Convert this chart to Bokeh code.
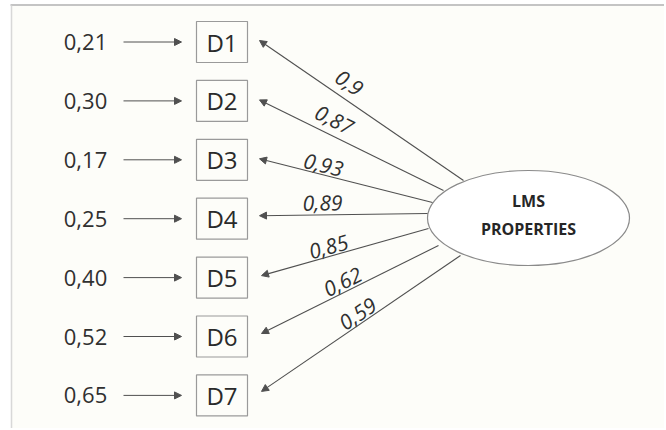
import math
from bokeh.plotting import figure
from bokeh.models import Range1d, Arrow, NormalHead, ColumnDataSource
from bokeh.core.properties import value
from bokeh.embed import file_html
from bokeh.resources import INLINE

# ---- data ----
indicators = ["D1", "D2", "D3", "D4", "D5", "D6", "D7"]
errors = ["0,21", "0,30", "0,17", "0,25", "0,40", "0,52", "0,65"]
loadings = ["0,9", "0,87", "0,93", "0,89", "0,85", "0,62", "0,59"]
latent_lines = ["LMS", "PROPERTIES"]

# ---- layout (page pixel coordinates, y downward) ----
H = 430
W_FIG, H_FIG = 664, 428
def Y(py):
    return H - py

n = len(indicators)
box_cy = [41.5 + 58.9 * i for i in range(n)]
box_x0, box_x1 = 196, 247
box_h = 41
err_x = 85
err_arrow_x0, err_arrow_x1 = 123, 181
tip_x = [259, 259, 259, 259, 261, 261, 261]
tip_dy = [-1.5, -1, -1, -3, -2, -3, -4]
start_pts = [(463, 180), (443, 190), (432, 202), (427, 213), (428, 228), (438, 245), (460, 255)]
load_pos = [(349, 82), (334, 119), (323, 164), (322, 202), (328, 246), (342, 281), (357, 313)]
ell_cx, ell_cy, ell_w, ell_h = 528, 217.5, 202, 95

FONT = "Open Sans"
TXT = "#303030"
LINE = "#505050"

p = figure(width=W_FIG, height=H_FIG, output_backend="svg", toolbar_location=None,
           x_range=Range1d(0, W_FIG), y_range=Range1d(H - H_FIG, H), min_border=0)
p.axis.visible = False
p.grid.visible = False
p.outline_line_color = None
p.background_fill_color = "white"
p.border_fill_color = "white"

# panel background and borders
p.quad(left=[11], right=[W_FIG], bottom=[H - H_FIG], top=[Y(5)], fill_color="#fdfdf9", line_color=None)
p.segment(x0=[10], y0=[Y(4.5)], x1=[W_FIG], y1=[Y(4.5)], line_color="#c4c4c4", line_width=2)
p.segment(x0=[11], y0=[Y(5)], x1=[11], y1=[H - H_FIG], line_color="#d8d8d8", line_width=1.5)

# error arrows
err_src = ColumnDataSource(dict(
    x0=[err_arrow_x0] * n, x1=[err_arrow_x1] * n,
    y0=[Y(c) for c in box_cy], y1=[Y(c) for c in box_cy]))
p.add_layout(Arrow(end=NormalHead(size=7, fill_color=LINE, line_color=LINE),
                   x_start="x0", y_start="y0", x_end="x1", y_end="y1",
                   source=err_src, line_color=LINE, line_width=1))
p.text(x=[err_x] * n, y=[Y(c) for c in box_cy], text=errors,
       text_font=value(FONT), text_font_size="22px", text_color=TXT,
       text_align="center", text_baseline="middle")

# indicator boxes
p.quad(left=[box_x0] * n, right=[box_x1] * n,
       bottom=[Y(c + box_h / 2) for c in box_cy], top=[Y(c - box_h / 2) for c in box_cy],
       fill_color="#fdfdf9", line_color="#9a9a9a", line_width=1.2)
p.text(x=[(box_x0 + box_x1) / 2] * n, y=[Y(c) for c in box_cy], text=indicators,
       text_font=value(FONT), text_font_size="24px", text_color="#2a2a2a",
       text_align="center", text_baseline="middle")

# loading arrows
ld_src = ColumnDataSource(dict(
    x0=[s[0] for s in start_pts], y0=[Y(s[1]) for s in start_pts],
    x1=tip_x, y1=[Y(c + d) for c, d in zip(box_cy, tip_dy)]))
p.add_layout(Arrow(end=NormalHead(size=7, fill_color=LINE, line_color=LINE),
                   x_start="x0", y_start="y0", x_end="x1", y_end="y1",
                   source=ld_src, line_color=LINE, line_width=1.1))

angles = []
for (sx, sy), tx, c, d in zip(start_pts, tip_x, box_cy, tip_dy):
    ty = c + d
    angles.append(math.atan2(-(sy - ty), sx - tx))
p.text(x=[q[0] for q in load_pos], y=[Y(q[1]) for q in load_pos], text=loadings,
       angle=angles, text_font=value(FONT), text_font_size="21px",
       text_font_style="italic", text_color=TXT,
       text_align="center", text_baseline="middle")

# latent ellipse
p.ellipse(x=[ell_cx], y=[Y(ell_cy)], width=[ell_w], height=[ell_h],
          fill_color="white", line_color="#8a8a8a", line_width=1.2)
p.text(x=[ell_cx, ell_cx], y=[Y(200), Y(228)], text=latent_lines,
       text_font=value(FONT), text_font_size="16px", text_font_style="bold",
       text_color="#262626", text_align="center", text_baseline="middle")

open("out.html", "w").write(file_html(p, INLINE))
